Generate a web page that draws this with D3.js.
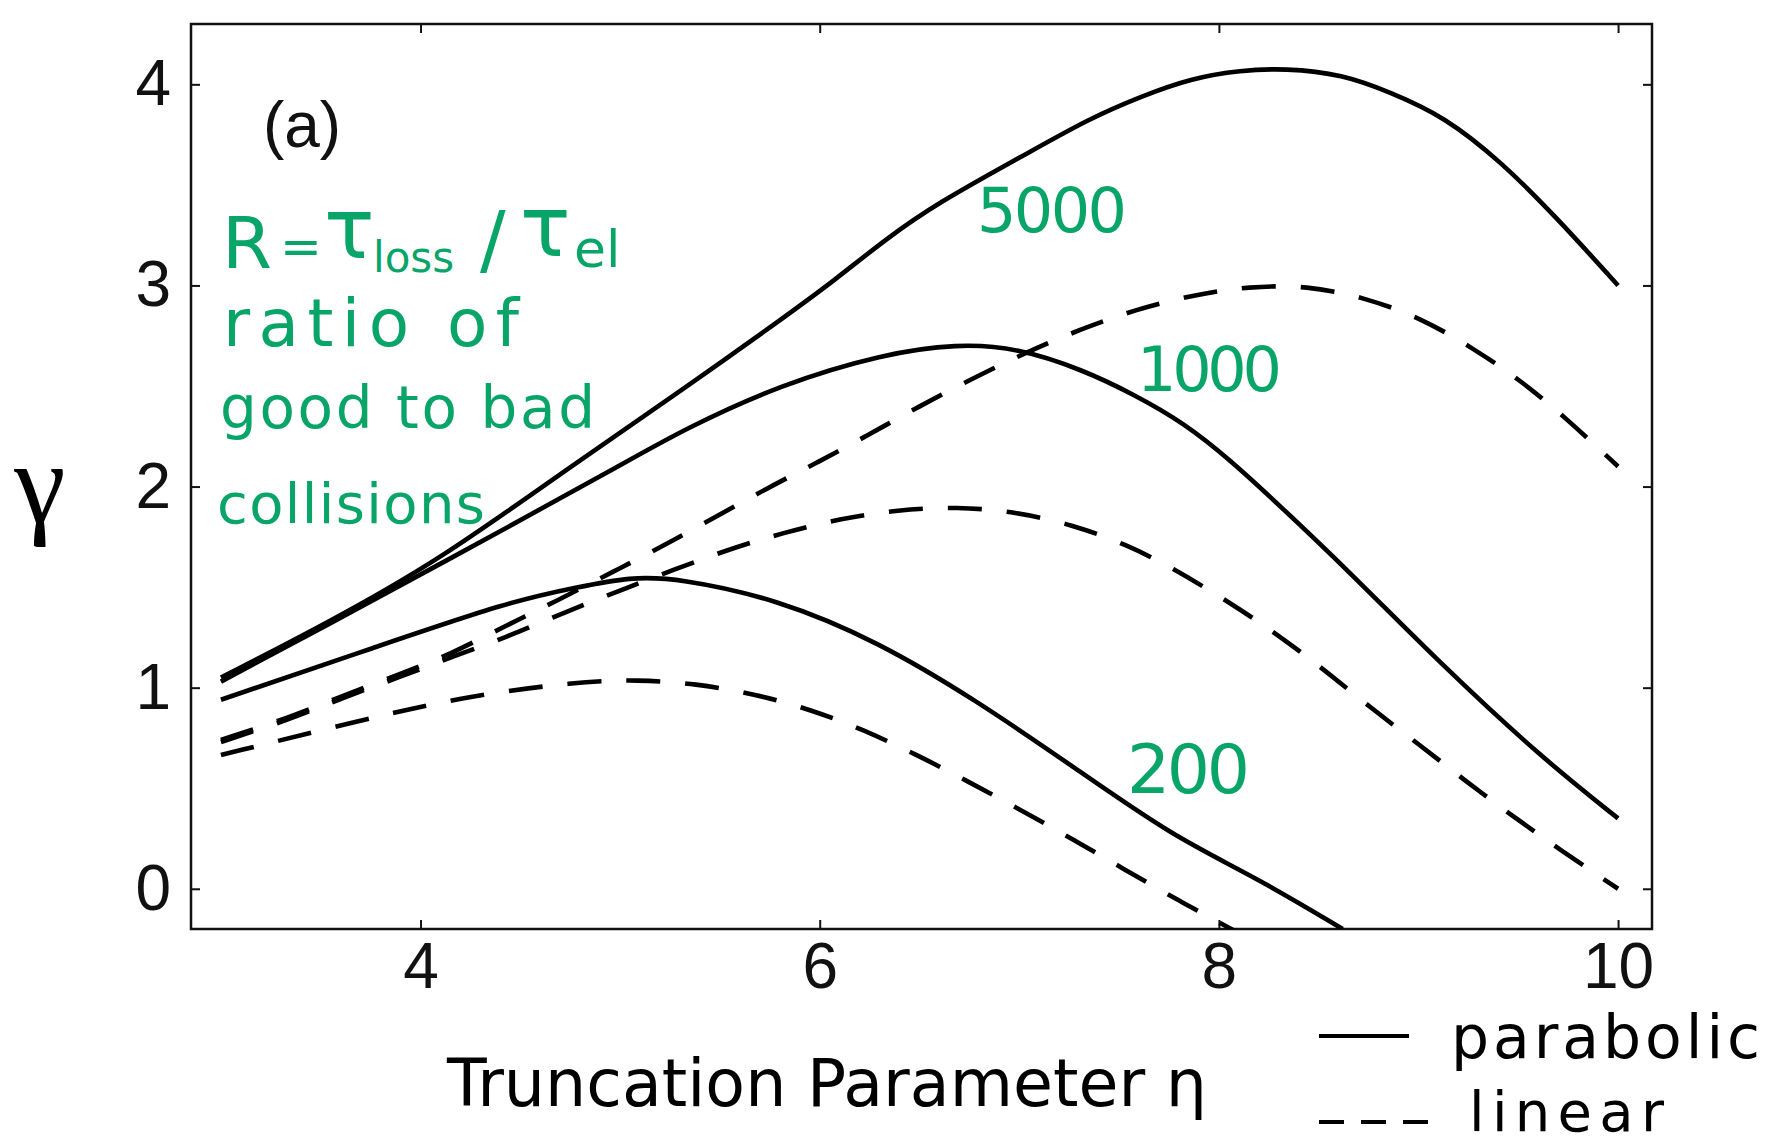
<!DOCTYPE html>
<html>
<head>
<meta charset="utf-8">
<script src="https://cdn.jsdelivr.net/npm/d3@7"></script>
<style>
  html, body { margin: 0; padding: 0; background: #fff; }
  svg { display: block; }
</style>
</head>
<body>
<svg id="chart" width="1775" height="1147"></svg>
<script>
// ---------------- data ----------------
const xTicks = [4, 6, 8, 10];
const yTicks = [0, 1, 2, 3, 4];

// parabolic (solid) curves
const parabolic5000Eta   = [3.0, 3.53, 4.09, 4.78, 5.31, 5.82, 6.08, 6.33, 6.59, 7.01, 7.35, 7.61, 7.86, 8.11, 8.33, 8.62, 8.86, 9.13, 9.42, 9.69, 10.0];
const parabolic5000Gamma = [1.05, 1.32, 1.63, 2.12, 2.48, 2.84, 3.03, 3.23, 3.41, 3.64, 3.83, 3.94, 4.03, 4.07, 4.08, 4.05, 3.96, 3.84, 3.61, 3.34, 3.0];

const parabolic1000Eta   = [3.0, 3.53, 4.09, 5.02, 5.31, 5.81, 6.32, 6.69, 6.99, 7.32, 7.57, 7.82, 8.06, 8.31, 8.64, 9.13, 9.62, 10.0];
const parabolic1000Gamma = [1.03, 1.31, 1.61, 2.115, 2.28, 2.51, 2.66, 2.71, 2.69, 2.58, 2.46, 2.32, 2.13, 1.90, 1.59, 1.10, 0.65, 0.35];

const parabolic200Eta   = [3.0, 3.77, 4.45, 4.79, 5.05, 5.29, 5.79, 6.29, 6.78, 7.28, 7.77, 8.18, 8.62];
const parabolic200Gamma = [0.94, 1.2, 1.43, 1.5, 1.55, 1.545, 1.44, 1.23, 0.94, 0.6, 0.26, 0.06, -0.2];

// linear (dashed) curves
const linear5000Eta   = [3.0, 3.34, 3.61, 3.89, 4.16, 4.43, 4.68, 4.97, 5.22, 5.73, 5.99, 6.25, 6.50, 6.77, 7.03, 7.30, 7.58, 7.88, 8.15, 8.44, 8.73, 9.01, 9.27, 9.51, 9.74, 10.0];
const linear5000Gamma = [0.74, 0.85, 0.96, 1.065, 1.17, 1.31, 1.43, 1.58, 1.705, 1.99, 2.12, 2.26, 2.40, 2.54, 2.665, 2.78, 2.88, 2.955, 2.995, 3.0, 2.94, 2.84, 2.69, 2.53, 2.34, 2.1];

const linear1000Eta   = [3.0, 3.34, 3.61, 3.89, 4.16, 4.43, 4.71, 4.99, 5.54, 5.82, 6.10, 6.39, 6.69, 6.98, 7.27, 7.54, 7.76, 8.06, 8.30, 8.54, 8.76, 9.00, 9.23, 9.46, 9.70, 10.0];
const linear1000Gamma = [0.73, 0.84, 0.95, 1.05, 1.155, 1.25, 1.37, 1.48, 1.69, 1.77, 1.84, 1.885, 1.90, 1.875, 1.81, 1.71, 1.6, 1.42, 1.26, 1.08, 0.90, 0.72, 0.54, 0.37, 0.2, 0.0];

const linear200Eta   = [3.0, 3.63, 4.20, 4.79, 5.09, 5.38, 5.67, 5.96, 6.22, 6.49, 6.75, 7.01, 7.27, 7.52, 7.80, 8.1];
const linear200Gamma = [0.665, 0.82, 0.955, 1.03, 1.04, 1.02, 0.97, 0.89, 0.79, 0.665, 0.53, 0.39, 0.245, 0.1, -0.06, -0.22];

const seriesNames  = ["parabolic 5000", "parabolic 1000", "parabolic 200", "linear 5000", "linear 1000", "linear 200"];
const seriesEta    = [parabolic5000Eta, parabolic1000Eta, parabolic200Eta, linear5000Eta, linear1000Eta, linear200Eta];
const seriesGamma  = [parabolic5000Gamma, parabolic1000Gamma, parabolic200Gamma, linear5000Gamma, linear1000Gamma, linear200Gamma];
const seriesDashed = [false, false, false, true, true, true];

const curveLabels = ["5000", "1000", "200"];
const legendLabels = ["parabolic", "linear"];

// ---------------- layout ----------------
const svg = d3.select("#chart");
const W = 1775, H = 1147;
const plot = { left: 191, right: 1652, top: 24, bottom: 929 };
const green = "#08a468";

svg.append("rect").attr("width", W).attr("height", H).attr("fill", "#fff");

const x = d3.scaleLinear().domain([2.85, 10.17]).range([plot.left, plot.right]);
const y = d3.scaleLinear().domain([-0.2, 4.3]).range([plot.bottom, plot.top]);

svg.append("clipPath").attr("id", "plotclip")
  .append("rect")
  .attr("x", plot.left).attr("y", plot.top)
  .attr("width", plot.right - plot.left).attr("height", plot.bottom - plot.top);

// ---------------- axes ----------------
const tickFont = "'Liberation Sans', Arial, Helvetica, sans-serif";

const gx = svg.append("g").attr("transform", `translate(0,${plot.bottom})`)
  .call(d3.axisBottom(x).tickValues(xTicks).tickSizeInner(-9).tickSizeOuter(0).tickPadding(14).tickFormat(d3.format("d")));
const gxt = svg.append("g").attr("transform", `translate(0,${plot.top})`)
  .call(d3.axisTop(x).tickValues(xTicks).tickSizeInner(-9).tickSizeOuter(0).tickFormat(""));
const gy = svg.append("g").attr("transform", `translate(${plot.left},0)`)
  .call(d3.axisLeft(y).tickValues(yTicks).tickSizeInner(-9).tickSizeOuter(0).tickPadding(20).tickFormat(d3.format("d")));
const gyr = svg.append("g").attr("transform", `translate(${plot.right},0)`)
  .call(d3.axisRight(y).tickValues(yTicks).tickSizeInner(-9).tickSizeOuter(0).tickFormat(""));

[gx, gxt, gy, gyr].forEach(g => {
  g.select(".domain").remove();
  g.selectAll(".tick line").attr("stroke", "#111").attr("stroke-width", 2);
  g.selectAll(".tick text").attr("fill", "#111").style("font-family", tickFont).style("font-size", "64px");
});

// frame
svg.append("rect")
  .attr("x", plot.left).attr("y", plot.top)
  .attr("width", plot.right - plot.left).attr("height", plot.bottom - plot.top)
  .attr("fill", "none").attr("stroke", "#111").attr("stroke-width", 2.5);

// ---------------- curves ----------------
const line = d3.line()
  .x(d => x(d[0])).y(d => y(d[1]))
  .curve(d3.curveBasis);

const curves = svg.append("g").attr("clip-path", "url(#plotclip)");
seriesNames.forEach((name, i) => {
  const pts = seriesEta[i].map((e, k) => [e, seriesGamma[i][k]]);
  curves.append("path")
    .datum(pts)
    .attr("class", name.replace(" ", "-"))
    .attr("d", line)
    .attr("fill", "none")
    .attr("stroke", "#000")
    .attr("stroke-width", 4.6)
    .attr("stroke-linecap", "butt")
    .attr("stroke-dasharray", seriesDashed[i] ? "34,25" : null);
});

// ---------------- text ----------------
const handFont = "'DejaVu Sans', 'Noto Sans', sans-serif";

// panel label
svg.append("text").attr("x", 302).attr("y", 147).attr("text-anchor", "middle")
  .style("font-family", tickFont).style("font-size", "64px").attr("fill", "#111").text("(a)");

// y axis label
svg.append("text").attr("x", 40).attr("y", 522).attr("text-anchor", "middle")
  .style("font-family", "'Liberation Serif', 'DejaVu Serif', serif").style("font-size", "116px")
  .attr("fill", "#000").text("γ");

// x axis label
svg.append("text").attr("x", 447).attr("y", 1106)
  .attr("textLength", 760).attr("lengthAdjust", "spacingAndGlyphs")
  .style("font-family", handFont).style("font-size", "66px").attr("fill", "#000")
  .text("Truncation Parameter η");

// green annotation: R = τ_loss / τ_el  (one text, pieces as tspans)
const formula = svg.append("text").attr("y", 268)
  .style("font-family", handFont).attr("fill", green);
formula.append("tspan").attr("x", 222).attr("y", 268).style("font-size", "72px").text("R");
formula.append("tspan").attr("x", 280).attr("y", 264).style("font-size", "50px").text("=");
formula.append("tspan").attr("x", 324).attr("y", 258).style("font-size", "84px").text("τ");
formula.append("tspan").attr("x", 373).attr("y", 272).style("font-size", "42px").text("loss");
formula.append("tspan").attr("x", 480).attr("y", 266).style("font-size", "76px").text("/");
formula.append("tspan").attr("x", 520).attr("y", 256).style("font-size", "84px").text("τ");
formula.append("tspan").attr("x", 574).attr("y", 267).style("font-size", "52px").text("el");

function gtext(txt, x0, base, size, len) {
  const t = svg.append("text").attr("x", x0).attr("y", base)
    .style("font-family", handFont).style("font-size", size + "px").attr("fill", green).text(txt);
  if (len) t.attr("textLength", len).attr("lengthAdjust", "spacing");
  return t;
}
gtext("ratio  of", 223, 346, 66, 296);
gtext("good to bad", 220, 428, 58, 375);
gtext("collisions", 217, 523, 56, 268);

// curve labels
gtext(curveLabels[0], 977, 232, 62, 150);
gtext(curveLabels[1], 1137, 391, 62, 145);
gtext(curveLabels[2], 1127, 793, 68, 123);

// ---------------- legend ----------------
svg.append("line").attr("x1", 1319).attr("x2", 1409).attr("y1", 1036).attr("y2", 1036)
  .attr("stroke", "#000").attr("stroke-width", 4);
svg.append("text").attr("x", 1451).attr("y", 1058)
  .attr("textLength", 309).attr("lengthAdjust", "spacing")
  .style("font-family", handFont).style("font-size", "60px").attr("fill", "#000").text(legendLabels[0]);

svg.append("line").attr("x1", 1319).attr("x2", 1429).attr("y1", 1122).attr("y2", 1122)
  .attr("stroke", "#000").attr("stroke-width", 4).attr("stroke-dasharray", "25,17");
svg.append("text").attr("x", 1469).attr("y", 1131)
  .attr("textLength", 195).attr("lengthAdjust", "spacing")
  .style("font-family", handFont).style("font-size", "56px").attr("fill", "#000").text(legendLabels[1]);
</script>
</body>
</html>
